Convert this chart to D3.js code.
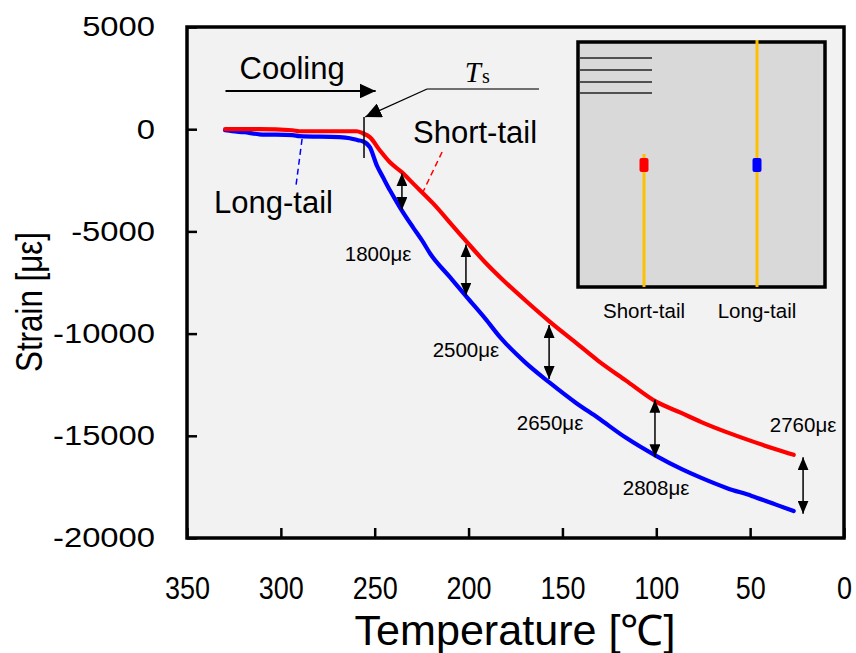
<!DOCTYPE html>
<html>
<head>
<meta charset="utf-8">
<script src="https://cdn.jsdelivr.net/npm/d3@7"></script>
<style>
  html, body { margin: 0; padding: 0; background: #ffffff; }
  svg { display: block; }
  text { font-family: "Liberation Sans", Arial, sans-serif; fill: #000; }
</style>
</head>
<body>
<svg id="chart" width="856" height="653"></svg>
<script>
// ---- Measured strain during cooling ----
const shortTailTemp = [329.7, 311.5, 293.8, 290.1, 259.6, 256.4, 252.6, 247.3, 241.9, 235.5, 229.6, 218.9, 208.2, 200.7, 191.1, 181.4, 169.7, 156.8, 142.9, 131.1, 116.1, 100.1, 86.7, 76.0, 62.6, 49.2, 35.9, 26.8];
const shortTailStrain = [0, 0, -50, -100, -100, -200, -390, -1030, -1620, -2110, -2650, -3630, -4750, -5540, -6520, -7400, -8380, -9410, -10440, -11320, -12300, -13330, -13880, -14330, -14820, -15260, -15670, -15930];

const longTailTemp = [329.7, 325.9, 319.5, 311.5, 293.8, 290.1, 268.7, 263.3, 259.0, 256.4, 252.6, 248.9, 245.6, 241.9, 236.6, 229.6, 224.8, 220.5, 209.8, 200.7, 191.1, 183.0, 169.7, 156.8, 142.9, 131.1, 116.1, 100.1, 86.7, 76.0, 62.6, 49.2, 35.9, 26.8];
const longTailStrain = [-50, -100, -150, -250, -290, -340, -390, -440, -540, -590, -880, -1770, -2350, -2990, -3820, -4800, -5440, -6080, -7250, -8240, -9270, -10200, -11420, -12400, -13380, -14120, -15100, -15980, -16620, -17060, -17550, -17940, -18380, -18680];

// Strain gap between the two gauges
const gapTemp = [235.5, 201.4, 157.1, 100.7, 21.8];
const gapMidStrain = [-3050, -6890, -10900, -14640, -17430];
const gapValue = [1800, 2500, 2650, 2808, 2760];

// Axis ticks
const tempTicks = [350, 300, 250, 200, 150, 100, 50, 0];
const strainTicks = [5000, 0, -5000, -10000, -15000, -20000];

// ---- Layout ----
const svg = d3.select("#chart");
const plot = { left: 187, right: 844, top: 27, bottom: 538 };

const x = d3.scaleLinear().domain([350, 0]).range([plot.left, plot.right]);
const y = d3.scaleLinear().domain([5000, -20000]).range([plot.top, plot.bottom]);

// widen / narrow a text run horizontally by a factor
function stretch(sel, k) {
  sel.each(function () {
    const w = this.getComputedTextLength();
    d3.select(this).attr("textLength", w * k).attr("lengthAdjust", "spacingAndGlyphs");
  });
}

// arrowhead markers
const defs = svg.append("defs");
function marker(id, w, h) {
  defs.append("marker")
    .attr("id", id)
    .attr("viewBox", `0 0 ${w} ${h}`)
    .attr("refX", w).attr("refY", h / 2)
    .attr("markerWidth", w).attr("markerHeight", h)
    .attr("markerUnits", "userSpaceOnUse")
    .attr("orient", "auto-start-reverse")
    .append("path")
    .attr("d", `M0,0 L${w},${h / 2} L0,${h} Z`)
    .attr("fill", "#000");
}
marker("headBig", 16, 15);
marker("headSmall", 13, 11);

// plot background
svg.append("rect")
  .attr("x", plot.left).attr("y", plot.top)
  .attr("width", plot.right - plot.left).attr("height", plot.bottom - plot.top)
  .attr("fill", "#f2f2f2");

// ---- Inset: gauge arrangement sketch ----
const inset = svg.append("g");
const ib = { left: 578, right: 825, top: 42, bottom: 287 };
inset.append("rect")
  .attr("x", ib.left).attr("y", ib.top)
  .attr("width", ib.right - ib.left).attr("height", ib.bottom - ib.top)
  .attr("fill", "#d9d9d9").attr("stroke", "#000").attr("stroke-width", 3.5);
[58, 70, 82, 93].forEach(yy => {
  inset.append("line")
    .attr("x1", ib.left + 2).attr("x2", 652).attr("y1", yy).attr("y2", yy)
    .attr("stroke", "#222").attr("stroke-width", 1.3);
});
const gauges = [
  { name: "Short-tail", cx: 644, top: 154, color: "#ff0000" },
  { name: "Long-tail", cx: 757, top: ib.top - 2, color: "#0000ff" }
];
gauges.forEach(g => {
  inset.append("line")
    .attr("x1", g.cx).attr("x2", g.cx).attr("y1", g.top).attr("y2", ib.bottom)
    .attr("stroke", "#ffc000").attr("stroke-width", 3);
  inset.append("rect")
    .attr("x", g.cx - 4.5).attr("y", 158).attr("width", 9).attr("height", 14)
    .attr("rx", 2).attr("fill", g.color);
  inset.append("text")
    .attr("x", g.cx).attr("y", 318).attr("text-anchor", "middle")
    .attr("font-size", 20.5).text(g.name);
});

// ---- Curves ----
const line = d3.line().x(d => x(d[0])).y(d => y(d[1])).curve(d3.curveMonotoneX);
const longTail = d3.zip(longTailTemp, longTailStrain);
const shortTail = d3.zip(shortTailTemp, shortTailStrain);

svg.append("path").datum(longTail)
  .attr("d", line).attr("fill", "none")
  .attr("stroke", "#0000ff").attr("stroke-width", 4.2).attr("stroke-linejoin", "round").attr("stroke-linecap", "round");
svg.append("path").datum(shortTail)
  .attr("d", line).attr("fill", "none")
  .attr("stroke", "#ff0000").attr("stroke-width", 4.2).attr("stroke-linejoin", "round").attr("stroke-linecap", "round");

// ---- Gap arrows and labels ----
const gapLabelAt = [[248.2, -6060], [201.4, -10800], [156.6, -14370], [100.1, -17550], [21.8, -14470]];
gapTemp.forEach((t, i) => {
  const top = gapMidStrain[i] + gapValue[i] / 2;
  const bot = gapMidStrain[i] - gapValue[i] / 2;
  svg.append("line")
    .attr("x1", x(t)).attr("x2", x(t))
    .attr("y1", y(top)).attr("y2", y(bot))
    .attr("stroke", "#000").attr("stroke-width", 1.5)
    .attr("marker-start", "url(#headSmall)")
    .attr("marker-end", "url(#headSmall)");
  svg.append("text")
    .attr("x", x(gapLabelAt[i][0])).attr("y", y(gapLabelAt[i][1]))
    .attr("text-anchor", "middle").attr("dominant-baseline", "central")
    .attr("font-size", 20.5)
    .text(gapValue[i] + "με");
});

// ---- Annotations ----
// cooling direction
svg.append("line")
  .attr("x1", x(329.5)).attr("x2", x(249.5))
  .attr("y1", y(1870)).attr("y2", y(1870))
  .attr("stroke", "#000").attr("stroke-width", 2)
  .attr("marker-end", "url(#headBig)");
svg.append("text")
  .attr("x", x(322)).attr("y", y(2470))
  .attr("font-size", 31).text("Cooling");

// T_s pointer
svg.append("line")
  .attr("x1", x(222.1)).attr("x2", x(162.5))
  .attr("y1", y(1967)).attr("y2", y(1967))
  .attr("stroke", "#444").attr("stroke-width", 1.3);
svg.append("line")
  .attr("x1", x(222.1)).attr("y1", y(1967))
  .attr("x2", x(255.0)).attr("y2", y(600))
  .attr("stroke", "#000").attr("stroke-width", 1.3)
  .attr("marker-end", "url(#headBig)");
svg.append("line")
  .attr("x1", x(255.7)).attr("x2", x(255.7))
  .attr("y1", y(600)).attr("y2", y(-1410))
  .attr("stroke", "#000").attr("stroke-width", 1.5);
const ts = svg.append("text")
  .attr("x", x(202)).attr("y", y(2310))
  .style("font-family", "'Liberation Serif', 'DejaVu Serif', serif");
ts.append("tspan").attr("font-size", 29).attr("font-style", "italic").text("T");
ts.append("tspan").attr("font-size", 20).attr("dx", 1).attr("dy", 1).text("s");

// series callouts
svg.append("text")
  .attr("x", x(229.6)).attr("y", y(-680))
  .attr("font-size", 31).text("Short-tail");
svg.append("line")
  .attr("x1", x(214.1)).attr("y1", y(-1115))
  .attr("x2", x(224.3)).attr("y2", y(-3072))
  .attr("stroke", "#ff0000").attr("stroke-width", 1.5).attr("stroke-dasharray", "6,4");
svg.append("text")
  .attr("x", x(335.6)).attr("y", y(-4100))
  .attr("font-size", 31).text("Long-tail");
svg.append("line")
  .attr("x1", x(288.7)).attr("y1", y(-479))
  .attr("x2", x(291.9)).attr("y2", y(-2729))
  .attr("stroke", "#0000ff").attr("stroke-width", 1.5).attr("stroke-dasharray", "6,4");

// ---- Axes ----
const fmt = d => String(d);
const xAxis = d3.axisBottom(x).tickValues(tempTicks).tickFormat(fmt).tickSizeInner(-10).tickSizeOuter(0).tickPadding(39);
const yAxis = d3.axisLeft(y).tickValues(strainTicks).tickFormat(fmt).tickSizeInner(-10).tickSizeOuter(0).tickPadding(32);

const gx = svg.append("g").attr("transform", `translate(0,${plot.bottom})`).call(xAxis);
gx.select(".domain").remove();
gx.selectAll(".tick line").attr("stroke", "#000").attr("stroke-width", 2.5);
gx.selectAll(".tick text").attr("font-size", 31).attr("font-family", "'Liberation Sans', Arial, sans-serif").attr("fill", "#000")
  .call(stretch, 0.87);

const gy = svg.append("g").attr("transform", `translate(${plot.left},0)`).call(yAxis);
gy.select(".domain").remove();
gy.selectAll(".tick line").attr("stroke", "#000").attr("stroke-width", 2.5);
gy.selectAll(".tick text").attr("font-size", 28).attr("font-family", "'Liberation Sans', Arial, sans-serif").attr("fill", "#000")
  .call(stretch, 1.17);

// plot frame
svg.append("rect")
  .attr("x", plot.left).attr("y", plot.top)
  .attr("width", plot.right - plot.left).attr("height", plot.bottom - plot.top)
  .attr("fill", "none").attr("stroke", "#000").attr("stroke-width", 3.5);

// axis titles
svg.append("text")
  .attr("x", 515).attr("y", 645).attr("text-anchor", "middle")
  .attr("font-size", 42).attr("textLength", 321).attr("lengthAdjust", "spacingAndGlyphs")
  .text("Temperature [℃]");
svg.append("text")
  .attr("transform", "translate(42,302) rotate(-90)")
  .attr("text-anchor", "middle")
  .attr("font-size", 37).attr("textLength", 140).attr("lengthAdjust", "spacingAndGlyphs")
  .text("Strain [με]");
</script>
</body>
</html>
